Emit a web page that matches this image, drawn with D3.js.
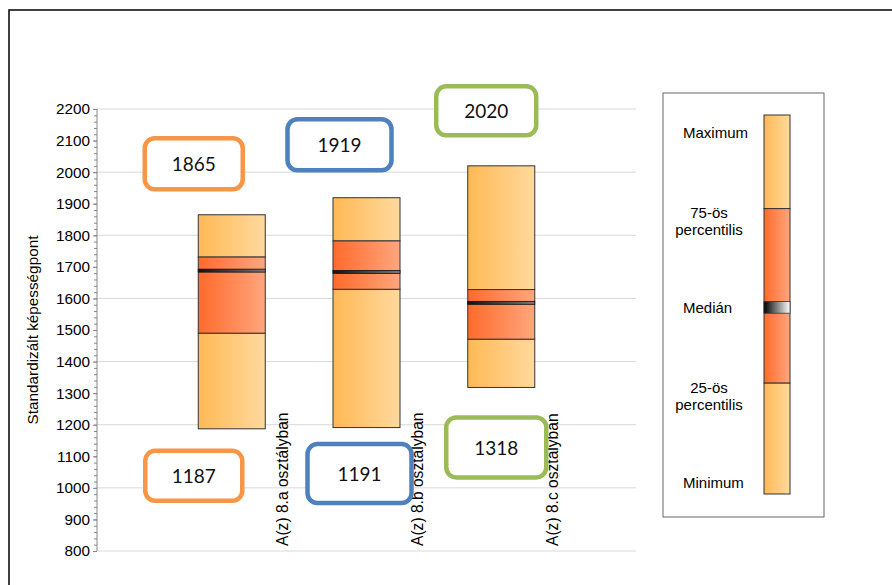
<!DOCTYPE html>
<html>
<head>
<meta charset="utf-8">
<script src="https://cdn.jsdelivr.net/npm/d3@7"></script>
<style>
  body { margin: 0; background: #fff; }
  svg { display: block; font-family: "Liberation Sans", Arial, sans-serif; }
</style>
</head>
<body>
<svg width="892" height="585"></svg>
<script>
// Chart data
var categories = ["A(z) 8.a osztályban", "A(z) 8.b osztályban", "A(z) 8.c osztályban"];
var minimum = [1187, 1191, 1318];
var p25 = [1490, 1629, 1471];
var median = [1688, 1684, 1586];
var p75 = [1731, 1782, 1628];
var maximum = [1865, 1919, 2020];
var labelColors = ["#F79646", "#4F81BD", "#9BBB59"];
var yTickValues = d3.range(800, 2201, 100);
var gridValues = d3.range(800, 2201, 200);
var legendLabels = ["Maximum", "75-ös\npercentilis", "Medián", "25-ös\npercentilis", "Minimum"];

// annotation boxes: offsets from (box center, value) and size
var maxBoxes = [[-38, -51, 98, 51], [-27, -53, 104, 51], [-15, -55, 100, 49]];
var minBoxes = [[-38, 47, 97, 50], [-7, 46, 104, 59], [-5, 60, 100, 60]];

var svg = d3.select("svg");

// gradients
var defs = svg.append("defs");
function grad(id, c1, c2) {
  var g = defs.append("linearGradient").attr("id", id)
    .attr("x1", "0%").attr("x2", "100%").attr("y1", "0%").attr("y2", "0%");
  g.append("stop").attr("offset", "0%").attr("stop-color", c1);
  g.append("stop").attr("offset", "100%").attr("stop-color", c2);
}
grad("outer", "#FFB955", "#FFD99D");
grad("inner", "#FF6A2B", "#FFA67E");
grad("med", "#000000", "#ffffff");
grad("medSmall", "#111111", "#777777");

// outer frame
svg.append("rect")
  .attr("x", 9).attr("y", 10).attr("width", 900).attr("height", 600)
  .attr("fill", "none").attr("stroke", "#111").attr("stroke-width", 1.6);

// scales
var y = d3.scaleLinear().domain([800, 2200]).range([551, 109]);
var x = d3.scalePoint().domain(categories).range([97, 636]).padding(1);
var boxW = 67;

// gridlines
svg.append("g").selectAll("line")
  .data(gridValues)
  .enter().append("line")
  .attr("x1", 97).attr("x2", 636)
  .attr("y1", d => y(d)).attr("y2", d => y(d))
  .attr("stroke", "#d9d9d9").attr("stroke-width", 1);

// minor ticks
var yAxisMinor = d3.axisLeft(y).tickValues(d3.range(800, 2201, 20)).tickSize(3).tickFormat("");
svg.append("g").attr("transform", "translate(97,0)").call(yAxisMinor)
  .call(g => g.select(".domain").remove())
  .selectAll("line").attr("stroke", "#888");

// y axis
var yAxis = d3.axisLeft(y).tickValues(yTickValues).tickSize(4).tickPadding(3).tickFormat(d3.format("d"));
svg.append("g").attr("transform", "translate(97,0)").call(yAxis)
  .call(g => g.select(".domain").attr("stroke", "#888").attr("d", "M0," + y(2200) + "V" + y(800)))
  .call(g => g.selectAll("line").attr("stroke", "#888"))
  .selectAll("text").attr("font-size", 15.3).attr("fill", "#000")
  .attr("font-family", "'Liberation Sans', Arial, sans-serif");

// y axis title
svg.append("text")
  .attr("transform", "translate(33," + (y(1500)) + ") rotate(-90)")
  .attr("text-anchor", "middle").attr("dy", "0.35em")
  .attr("font-size", 15.3)
  .text("Standardizált képességpont");

// boxes
var boxes = svg.append("g").selectAll("g")
  .data(categories)
  .enter().append("g");

boxes.append("rect")
  .attr("x", d => x(d) - boxW / 2).attr("width", boxW)
  .attr("y", (d, i) => y(p25[i])).attr("height", (d, i) => y(minimum[i]) - y(p25[i]))
  .attr("fill", "url(#outer)").attr("stroke", "#333").attr("stroke-width", 1);
boxes.append("rect")
  .attr("x", d => x(d) - boxW / 2).attr("width", boxW)
  .attr("y", (d, i) => y(maximum[i])).attr("height", (d, i) => y(p75[i]) - y(maximum[i]))
  .attr("fill", "url(#outer)").attr("stroke", "#333").attr("stroke-width", 1);
boxes.append("rect")
  .attr("x", d => x(d) - boxW / 2).attr("width", boxW)
  .attr("y", (d, i) => y(p75[i])).attr("height", (d, i) => y(p25[i]) - y(p75[i]))
  .attr("fill", "url(#inner)").attr("stroke", "#333").attr("stroke-width", 1);
boxes.append("rect")
  .attr("x", d => x(d) - boxW / 2).attr("width", boxW)
  .attr("y", (d, i) => y(median[i]) - 1.5).attr("height", 3)
  .attr("fill", "url(#medSmall)").attr("stroke", "#111").attr("stroke-width", 0.8);

// category labels
svg.append("g").selectAll("text")
  .data(categories)
  .enter().append("text")
  .attr("transform", d => "translate(" + (x(d) + 51) + ",546) rotate(-90)")
  .attr("dy", "0.35em")
  .attr("font-size", 15.6)
  .text(d => d);

// value annotations
function annot(values, layout) {
  var g = svg.append("g").selectAll("g")
    .data(categories)
    .enter().append("g")
    .attr("transform", (d, i) => "translate(" + (x(d) + layout[i][0]) + "," + (y(values[i]) + layout[i][1]) + ")");
  g.append("rect")
    .attr("x", (d, i) => -layout[i][2] / 2).attr("y", (d, i) => -layout[i][3] / 2)
    .attr("width", (d, i) => layout[i][2]).attr("height", (d, i) => layout[i][3])
    .attr("rx", 10).attr("ry", 10)
    .attr("fill", "#fff").attr("stroke", (d, i) => labelColors[i]).attr("stroke-width", 4.5);
  g.append("text")
    .attr("text-anchor", "middle").attr("dy", "0.38em")
    .attr("font-family", "Lato, 'Noto Sans', sans-serif")
    .attr("font-size", 19).attr("fill", "#111")
    .text((d, i) => values[i]);
}
annot(maximum, maxBoxes);
annot(minimum, minBoxes);

// legend
var legend = svg.append("g");
legend.append("rect")
  .attr("x", 663).attr("y", 93).attr("width", 161).attr("height", 424)
  .attr("fill", "#fff").attr("stroke", "#666").attr("stroke-width", 1);

var ly = d3.scaleLinear().domain([0, 1]).range([494, 115]);
var legendStops = [0, 0.293, 0.477, 0.508, 0.753, 1];
var lx = 764, lw = 26;
legend.append("rect").attr("x", lx).attr("width", lw)
  .attr("y", ly(legendStops[5])).attr("height", ly(legendStops[4]) - ly(legendStops[5]))
  .attr("fill", "url(#outer)").attr("stroke", "#333");
legend.append("rect").attr("x", lx).attr("width", lw)
  .attr("y", ly(legendStops[1])).attr("height", ly(legendStops[0]) - ly(legendStops[1]))
  .attr("fill", "url(#outer)").attr("stroke", "#333");
legend.append("rect").attr("x", lx).attr("width", lw)
  .attr("y", ly(legendStops[4])).attr("height", ly(legendStops[1]) - ly(legendStops[4]))
  .attr("fill", "url(#inner)").attr("stroke", "#333");
legend.append("rect").attr("x", lx).attr("width", lw)
  .attr("y", ly(legendStops[3])).attr("height", ly(legendStops[2]) - ly(legendStops[3]))
  .attr("fill", "url(#med)").attr("stroke", "#333").attr("stroke-width", 0.8);

var legendY = [482.5, 396, 308, 221, 133];
legendLabels.slice().reverse().forEach(function(t, i) {
  var lines = t.split("\n");
  var txt = legend.append("text")
    .attr("font-size", 15)
    .attr("text-anchor", lines.length > 1 ? "middle" : "start");
  lines.forEach(function(l, j) {
    txt.append("tspan")
      .attr("x", lines.length > 1 ? 709 : 683)
      .attr("y", legendY[i] + (j - (lines.length - 1) / 2) * 17.5)
      .attr("dy", "0.35em")
      .text(l);
  });
});
</script>
</body>
</html>
